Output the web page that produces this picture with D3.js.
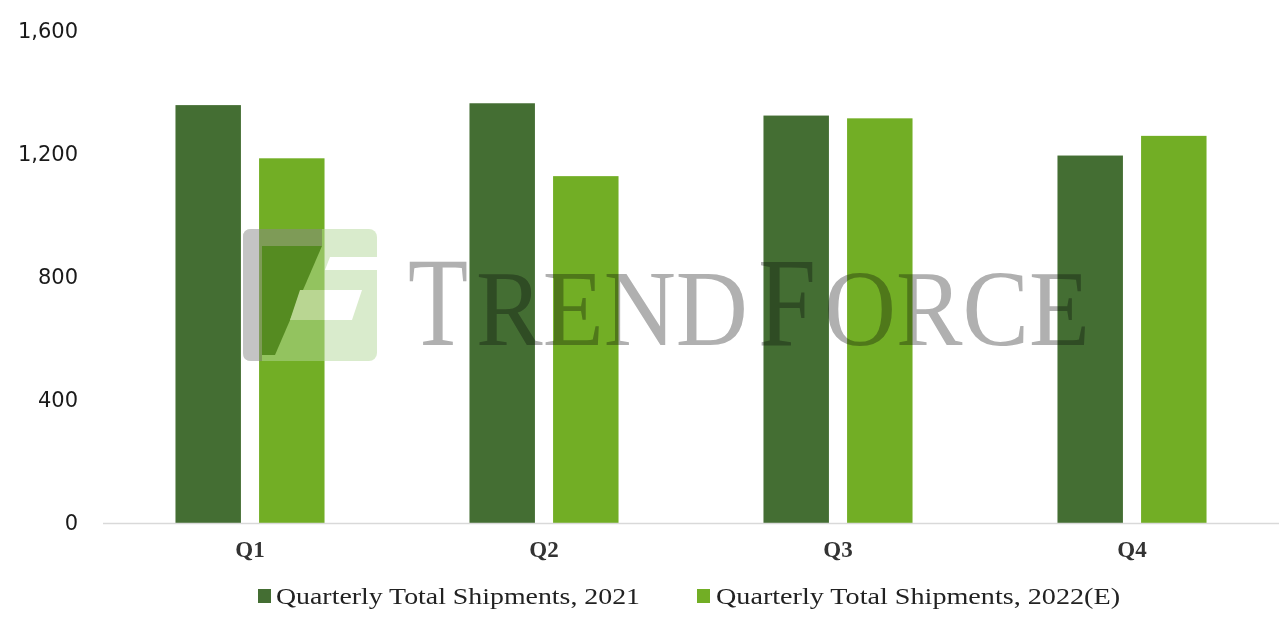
<!DOCTYPE html>
<html><head><meta charset="utf-8">
<script src="https://cdn.jsdelivr.net/npm/d3@7"></script>
<style>body{margin:0;background:#fff}svg{display:block}</style>
</head><body>
<svg id="c" width="1280" height="626"></svg>
<script>
const categories = ["Q1","Q2","Q3","Q4"];
const seriesNames = ["Quarterly Total Shipments, 2021","Quarterly Total Shipments, 2022(E)"];
const values2021 = [1359, 1365, 1325, 1195];
const values2022 = [1186, 1128, 1316, 1259];
const yTicks = [0, 400, 800, 1200, 1600];
const colors = ["#446e33", "#72ae25"];

const svg = d3.select("#c");
const y = d3.scaleLinear().domain([0,1600]).range([523,31]);
const x0 = d3.scaleBand().domain(categories).range([103,1279]).paddingInner(0.493).paddingOuter(0.2465);
const x1 = d3.scaleBand().domain([0,1]).range([0,x0.bandwidth()]).paddingInner(0.217).paddingOuter(0);

const data = categories.map((c,i)=>({c, v:[values2021[i], values2022[i]]}));

// y axis labels
const yAxis = d3.axisLeft(y).tickValues(yTicks).tickFormat(d3.format(",")).tickSize(0).tickPadding(0);
const ya = svg.append("g").attr("transform","translate(78,0)").call(yAxis);
ya.select(".domain").remove();
ya.selectAll("text").attr("font-family","DejaVu Sans").attr("font-size",21).attr("fill","#1a1a1a");

// bars
const g = svg.append("g");
data.forEach(d=>{
  g.selectAll(null).data(d.v).enter().append("rect")
   .attr("x",(v,j)=>x0(d.c)+x1(j)).attr("width",x1.bandwidth())
   .attr("y",v=>y(v)).attr("height",v=>y(0)-y(v))
   .attr("fill",(v,j)=>colors[j]);
});

// x axis
svg.append("line").attr("x1",103).attr("x2",1279).attr("y1",y(0)+0.5).attr("y2",y(0)+0.5).attr("stroke","#d9d9d9").attr("stroke-width",1.5);
const xAxis = d3.axisBottom(x0).tickSize(0).tickPadding(0);
const xa = svg.append("g").attr("transform","translate(0,540)").call(xAxis);
xa.select(".domain").remove();
xa.selectAll("text").attr("font-family","Liberation Serif").attr("font-size",23).attr("font-weight","bold").attr("fill","#333").attr("dy","0.72em");

// watermark logo
const wm = svg.append("g").attr("opacity",0.5);
wm.append("rect").attr("x",243).attr("y",229).attr("width",134).attr("height",132).attr("rx",8).attr("fill","#b5d99a");
wm.append("path").attr("d","M251,229 L322,229 L322,246 L262,246 L262,361 L251,361 Q243,361 243,353 L243,237 Q243,229 251,229 Z").attr("fill","#8a8a8a");
wm.append("path").attr("d","M262,246 L322,246 L275,355 L262,355 Z").attr("fill","#3a6a1e");
wm.append("path").attr("d","M330,257 L377,257 L377,270 L325,270 Z").attr("fill","#fff");
wm.append("path").attr("d","M300,290 L362,290 L352,320 L290,320 Z").attr("fill","#fff");

// watermark text (separate pieces, horizontally scaled, so they do not overlap)
const wmParts = [
  {t:"T", x:408, w:60, s:128},
  {t:"REND", x:476, w:272, s:108},
  {t:"F", x:758, w:58, s:128},
  {t:"ORCE", x:824, w:266, s:108}
];
wmParts.forEach(p=>{
  const t = svg.append("text").attr("x",0).attr("y",0).attr("font-family","Liberation Serif").attr("font-size",p.s)
    .attr("fill","#b0b0b0").style("mix-blend-mode","multiply").text(p.t);
  const nat = t.node().getComputedTextLength();
  t.attr("transform",`translate(${p.x},345) scale(${p.w/nat},1)`);
});

// legend
const legX = [258, 697], legTextX = [276, 716], legW = [364, 404];
seriesNames.forEach((n,i)=>{
  svg.append("rect").attr("x",legX[i]).attr("y",589).attr("width",13).attr("height",14).attr("fill",colors[i]);
  svg.append("text").attr("x",legTextX[i]).attr("y",604).attr("font-family","Liberation Serif").attr("font-size",24)
    .attr("fill","#222").attr("textLength",legW[i]).attr("lengthAdjust","spacingAndGlyphs").text(n);
});
</script>
</body></html>
